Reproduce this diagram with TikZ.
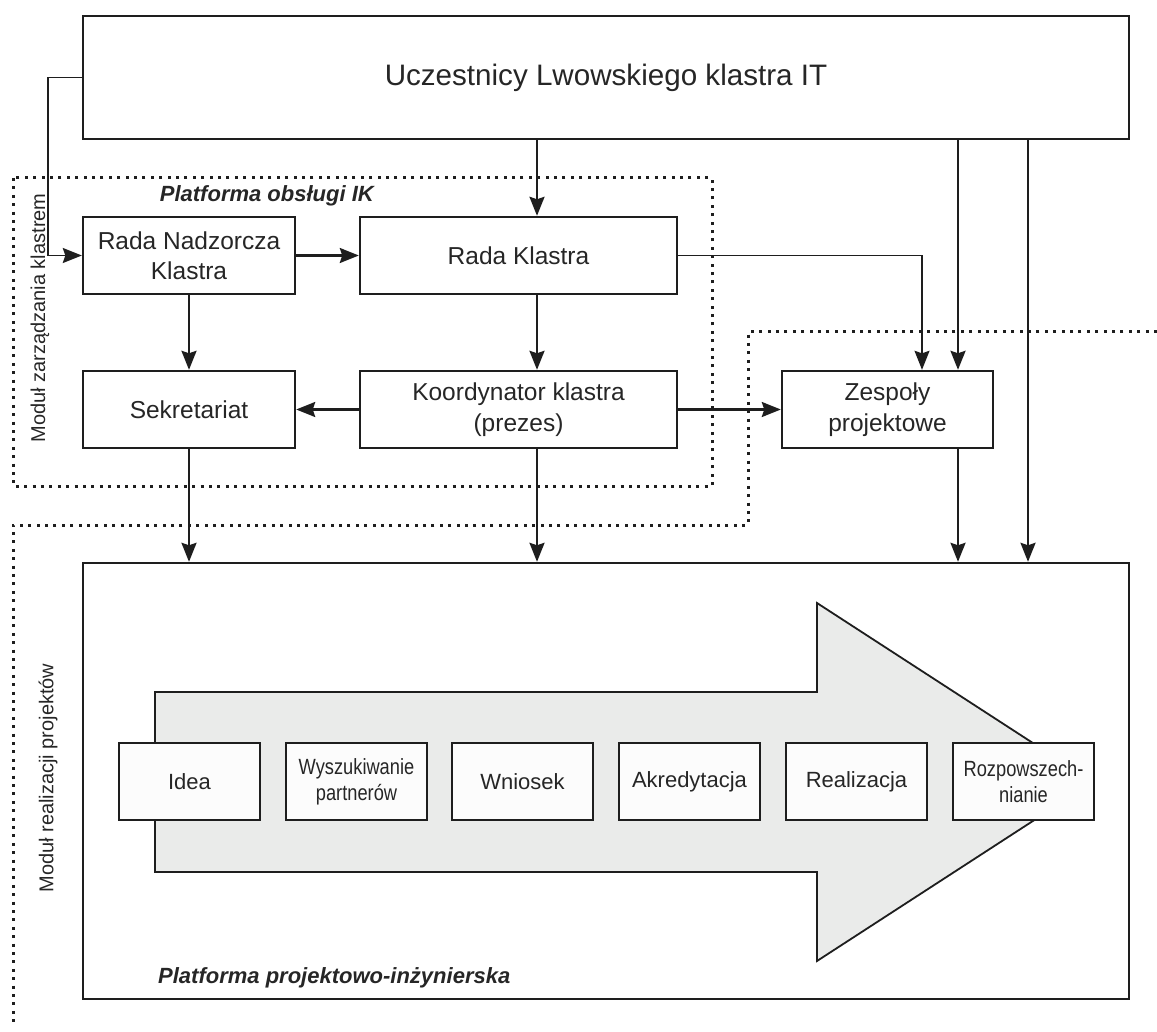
\documentclass[tikz,border=0pt]{standalone}
\usepackage{fontspec}
\setmainfont{Liberation Sans}
\usepackage{graphicx}
\usetikzlibrary{arrows.meta}
\definecolor{ink}{HTML}{1E1E1E}
\definecolor{txt}{HTML}{262626}
\definecolor{arrowfill}{HTML}{EAEBEA}
\definecolor{stepfill}{HTML}{FCFCFC}
\newcommand{\narrow}[1]{\scalebox{0.83}[1]{#1}}
\begin{document}
\begin{tikzpicture}[x=1pt,y=-1pt,
  box/.style={draw=ink, line width=2.4pt, fill=white, inner sep=0pt, align=center, text=txt,
              font=\fontsize{24.5}{30.5}\selectfont},
  stepbox/.style={box, fill=stepfill, minimum width=141pt, minimum height=77pt,
              font=\fontsize{22}{26}\selectfont},
  conn/.style={draw=ink, line width=2.4pt, -{Stealth[length=19pt,width=15pt,inset=2.5pt]}},
  thinconn/.style={conn, line width=1.5pt},
  dots/.style={draw=ink, line width=3pt, dash pattern=on 3pt off 5.4pt},
  title/.style={text=txt, inner sep=0pt, font=\fontsize{22}{26}\selectfont\bfseries\itshape},
  sidelabel/.style={text=txt, inner sep=0pt, rotate=90, font=\fontsize{20}{24}\selectfont}
]
\useasboundingbox (0,0) rectangle (1157,1032);

% dotted module frames
\draw[dots] (13,178) rectangle (712,486);
\draw[dots] (1157,332) -- (748,332) -- (748,525) -- (13,525) -- (13,1025);

% main boxes
\node[box, minimum width=1046pt, minimum height=123pt, font=\fontsize{29.6}{34}\selectfont]
  (top) at (606,77.5) {Uczestnicy Lwowskiego klastra IT};
\node[box, minimum width=212pt, minimum height=77pt] (rnk) at (189,255.5) {Rada Nadzorcza\\Klastra};
\node[box, minimum width=212pt, minimum height=77pt] (sek) at (189,409.5) {Sekretariat};
\node[box, minimum width=317pt, minimum height=77pt] (rk) at (518.5,255.5) {Rada Klastra};
\node[box, minimum width=317pt, minimum height=77pt] (koord) at (518.5,409.5) {Koordynator klastra\\(prezes)};
\node[box, minimum width=211pt, minimum height=77pt] (zesp) at (887.5,409.5) {Zespoły\\projektowe};
\node[box, minimum width=1046pt, minimum height=436pt] (bottom) at (606,781) {};

% big process arrow
\fill[arrowfill] (155,692) -- (817,692) -- (817,603) -- (1093,782) -- (817,961) -- (817,872) -- (155,872) -- cycle;
\draw[ink, line width=1.8pt, line join=miter] (155,692) -- (817,692) -- (817,603) -- (1093,782) -- (817,961) -- (817,872) -- (155,872) -- cycle;

% steps
\node[stepbox] (s1) at (189.5,781.5) {Idea};
\node[stepbox] (s2) at (356.5,781.5) {\narrow{Wyszukiwanie}\\\narrow{partnerów}};
\node[stepbox] (s3) at (522.5,781.5) {Wniosek};
\node[stepbox] (s4) at (689.5,781.5) {Akredytacja};
\node[stepbox] (s5) at (856.5,781.5) {Realizacja};
\node[stepbox] (s6) at (1023.5,781.5) {\narrow{Rozpowszech-}\\\narrow{nianie}};

% labels
\node[title, anchor=base east] (t1) at (374,202) {Platforma obsługi IK};
\node[title, anchor=base west] (t2) at (158,983) {Platforma projektowo-inżynierska};
\node[sidelabel] (m1) at (40,318) {Moduł zarządzania klastrem};
\node[sidelabel] (m2) at (48,778) {Moduł realizacji projektów};

% helper coordinates for vertical connector lines
\coordinate (cl) at (48,77.5);
\coordinate (x537) at (537,0);
\coordinate (x922) at (922,0);
\coordinate (x958) at (958,0);
\coordinate (x1028) at (1028,0);

% connectors
\draw[thinconn] (top.west) -- (cl) |- (rnk.west);
\draw[conn] (top.south -| x537) -- (rk.north -| x537);
\draw[conn] (rnk.east) -- (rk.west);
\draw[conn] (rnk.south) -- (sek.north);
\draw[conn] (rk.south -| x537) -- (koord.north -| x537);
\draw[conn] (koord.west) -- (sek.east);
\draw[conn] (koord.east) -- (zesp.west);
\draw[thinconn] (rk.east) -| (zesp.north -| x922);
\draw[conn] (top.south -| x958) -- (zesp.north -| x958);
\draw[conn] (top.south -| x1028) -- (bottom.north -| x1028);
\draw[conn] (zesp.south -| x958) -- (bottom.north -| x958);
\draw[conn] (sek.south) -- (bottom.north -| sek.south);
\draw[conn] (koord.south -| x537) -- (bottom.north -| x537);
\end{tikzpicture}
\end{document}
